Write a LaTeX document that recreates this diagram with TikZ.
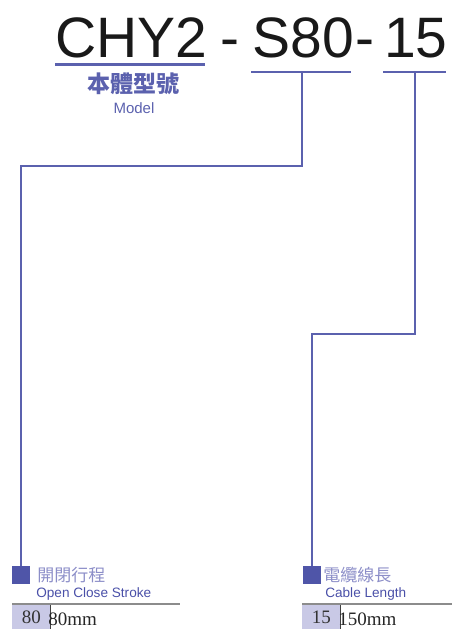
\documentclass[tikz,border=0pt]{standalone}
\usepackage{fontspec}
\setmainfont{Liberation Serif}
\newfontfamily\titlefont{Liberation Sans}
\newfontfamily\cjkfont{Noto Sans CJK TC}
\definecolor{codeblue}{HTML}{5B61AE}
\definecolor{sqblue}{HTML}{4F55A8}
\definecolor{labblue}{HTML}{4A50A8}
\definecolor{softblue}{HTML}{8C8EC8}
\definecolor{lavender}{HTML}{C9C9E6}
\tikzset{
  every path/.style={semithick},
  codepart/.style={inner sep=0pt, anchor=base west, text=black!90,
    font=\titlefont\fontsize{57}{57}\selectfont},
  link/.style={draw=codeblue, line width=1.6pt},
  codebar/.style={draw=codeblue, line width=1.6pt},
  keysq/.style={fill=sqblue, minimum size=18pt, inner sep=0pt},
  cjklab/.style={inner sep=0pt, anchor=west, text=softblue,
    font=\cjkfont\fontsize{17}{17}\selectfont},
  enlab/.style={inner sep=0pt, anchor=base west, text=labblue,
    font=\titlefont\fontsize{13.6}{14}\selectfont},
  valbox/.style={fill=lavender, anchor=north west, minimum width=38pt,
    minimum height=24pt, inner sep=0pt, text=black!80, font=\fontsize{19}{19}\selectfont},
  valtext/.style={inner sep=0pt, anchor=base west, text=black!85, font=\fontsize{19}{19}\selectfont},
}
\begin{document}
\begin{tikzpicture}[x=1pt, y=-1pt]
  \useasboundingbox (0,0) rectangle (452,629);

  % model code
  \node[codepart] (chy) at (55,57) {CHY2};
  \node[codepart] (dasha) at (220,57) {-};
  \node[codepart] (stroke) at (252,57) {S80};
  \node[codepart] (dashb) at (355,57) {-};
  \node[codepart] (cable) at (384,57) {15};

  \draw[codebar, line width=3pt] (55,64) -- (205,64);
  \node[text=codeblue, font=\cjkfont\bfseries\fontsize{23}{23}\selectfont] (modelzh) at (133,84) {本體型號};
  \node[text=codeblue, inner sep=0pt, anchor=base, font=\titlefont\fontsize{15}{15}\selectfont] (modelen) at (134,113) {Model};

  % under-bars of the options
  \draw[codebar] (251,72) -- (351,72);
  \draw[codebar] (383,72) -- (446,72);
  \coordinate (strokebar) at (302,72);
  \coordinate (cablebar) at (415,72);

  % key squares
  \node[keysq] (sqa) at (21,575) {};
  \node[keysq] (sqb) at (312,575) {};
  \coordinate (benda) at (0,166);
  \coordinate (bendb) at (0,334);

  \draw[link] (strokebar) |- (benda -| sqa) -- (sqa.north);
  \draw[link] (cablebar) |- (bendb -| sqb) -- (sqb.north);

  % labels
  \node[cjklab] (strokezh) at (37,575) {開閉行程};
  \node[enlab] (strokeen) at (36,597) {Open Close Stroke};
  \node[cjklab] (cablezh) at (323,575) {電纜線長};
  \node[enlab] (cableen) at (325,597) {Cable Length};

  % value rows
  \draw[black!45, line width=1.5pt] (12,604) -- (180,604);
  \draw[black!45, line width=1.5pt] (302,604) -- (452,604);
  \node[valbox] (vala) at (12,605) {80};
  \node[valbox] (valb) at (302,605) {15};
  \draw[black!75, line width=1pt] (vala.north east) -- (vala.south east);
  \draw[black!75, line width=1pt] (valb.north east) -- (valb.south east);
  \node[valtext] (texta) at (48,625) {80mm};
  \node[valtext] (textb) at (338,625) {150mm};
\end{tikzpicture}
\end{document}
